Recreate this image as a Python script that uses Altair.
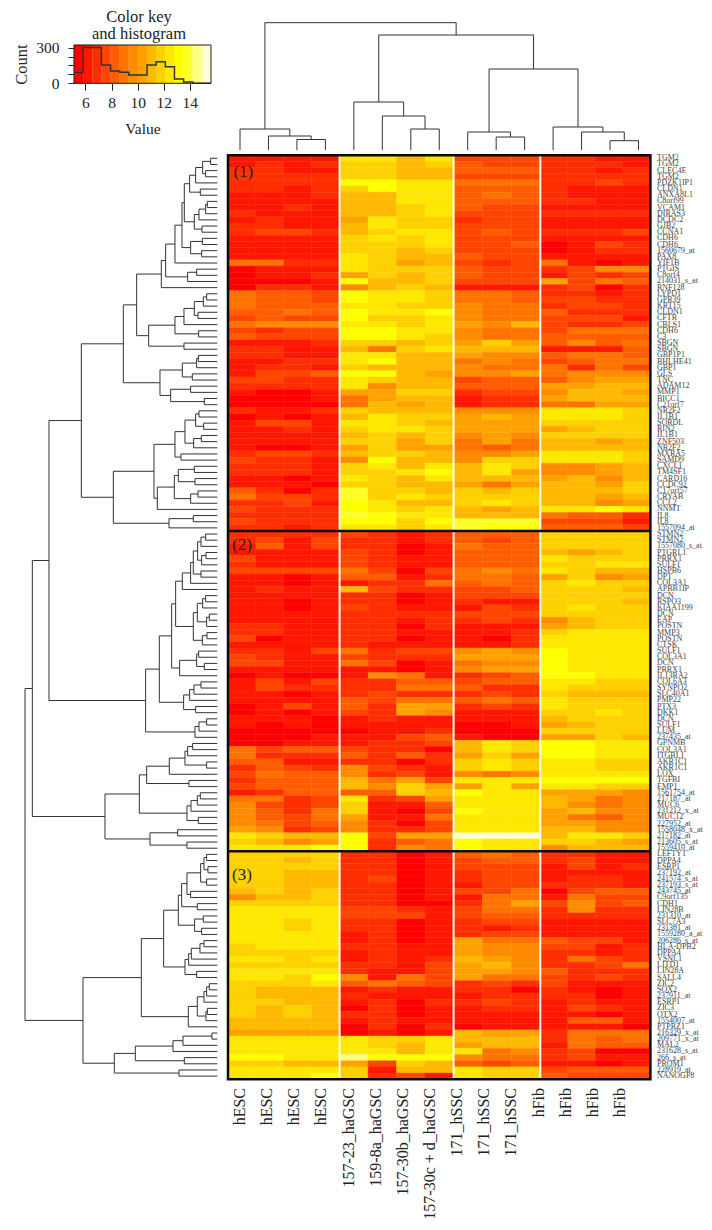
import altair as alt
import pandas as pd

W, H = 696, 1214
SERIF = "Liberation Serif"
INK = "#222222"

# ---------- colour key ----------
key_colors = ["#ff0000", "#ff1700", "#ff2e00", "#ff4600", "#ff5d00", "#ff7400", "#ff8b00", "#ffa200",
              "#ffb900", "#ffd100", "#ffe800", "#ffff00", "#ffff2b", "#ffff80", "#ffffd5"]
key_breaks = [5.12, 5.82, 6.52, 7.22, 7.92, 8.62, 9.32, 10.02, 10.72, 11.42, 12.12, 12.82, 13.52, 14.22, 14.92, 15.62]
hist_counts = [90, 300, 300, 154, 104, 93, 70, 70, 154, 182, 140, 36, 11, 0, 0]

# ---------- labels ----------
col_labels = ["hESC", "hESC", "hESC", "hESC", "157-23_haGSC", "159-8a_haGSC", "157-30b_haGSC", "157-30c + d_haGSC",
              "171_hSSC", "171_hSSC", "171_hSSC", "hFib", "hFib", "hFib", "hFib"]
row_labels_1 = ["TGM2", "TGM2", "CLEC4E", "TGM2", "PDZK1IP1", "CLDN1", "ANXA8L1", "C8orf99", "VCAM1", "DIRAS3", "DCDC2",
                "GJB2", "CCNA1", "CDH6", "CDH6", "1560679_at", "PAX8", "YIF1B", "PTGIS", "C8orf4", "214031_s_at", "RNF128",
                "LYPD1", "GPR39", "KRT15", "CLDN1", "CFTR", "CBLS1", "CDH6", "C3", "SBGN", "SBGN", "GBP1P1", "BHLHE41",
                "GBP1", "GLS", "TNC", "ADAM12", "MMP1", "BICC1", "C21orf7", "NR2F2", "IL1B1", "SORDL", "RIN2", "IL1B1",
                "ZNF503", "NR2F2", "MXRA5", "SAMD9", "CXCL1", "TM4SF1", "CARD16", "CCDC92", "C17orf57", "CRYAB", "CCL2",
                "NNMT", "IL8", "IL8", "1557094_at"]
row_labels_2 = ["STMN2", "STMN2", "1557080_s_at", "PTGRL1", "PRRX1", "SULF1", "HSPB6", "DPT", "COL3A1", "APBB1IP", "DCN",
                "RSPO3", "KIAA1199", "DCN", "EAP", "POSTN", "MMP3", "POSTN", "CTSK", "SULF1", "COL3A1", "DCN", "PRRX1",
                "IL13RA2", "COL6A3", "SYNPO2", "SLC40A1", "PMP22", "PTX3", "DKK1", "DCN", "SULF1", "LUM", "237435_at",
                "GPNMB", "COL3A1", "ITGBL1", "AKR1C1", "AKR1C1", "LOX", "TGFBI", "EMP1", "1561754_at", "217187_at", "MUC6",
                "231212_x_at", "MUC12", "227952_at", "1558048_x_at", "217182_at", "213605_s_at", "1559410_at"]
row_labels_3 = ["LEFTY1", "DPPA4", "ESRP1", "237192_at", "241574_s_at", "237193_s_at", "243745_at", "C9orf135", "CDH1",
                "LIN28B", "231310_at", "SLC7A3", "231381_at", "1559280_a_at", "206286_s_at", "HLA-DPB2", "DPPA4", "VSNL1",
                "LITD1", "LIN28A", "SALL4", "ZIC2", "SOX2", "237911_at", "ESRP1", "ZIC3", "OTX2", "1554007_at", "PTPRZ1",
                "216329_x_at", "209771_x_at", "MAL2", "231628_s_at", "266_s_at", "PROM1", "228919_at", "NANOGP8"]
row_labels = row_labels_1 + row_labels_2 + row_labels_3

# ---------- cells: colour-key bin of every cell, row by row ----------
cells_1 = [
    [1,1,1,1,10,10,8,10,3,3,3,2,2,1,1],
    [1,2,1,2,9,9,8,9,4,3,3,2,2,2,1],
    [2,2,1,1,9,9,8,8,4,4,4,2,2,1,2],
    [2,2,2,2,9,9,8,8,3,3,3,2,2,2,2],
    [2,2,2,2,11,11,10,10,5,5,5,2,2,3,2],
    [2,2,1,2,9,11,10,10,4,4,4,2,1,1,1],
    [1,1,1,2,8,8,10,10,4,5,4,2,1,1,1],
    [1,1,1,1,8,8,10,10,4,4,4,2,2,1,1],
    [1,1,2,1,8,8,9,10,4,3,3,1,1,1,1],
    [2,1,1,1,8,8,9,10,3,3,3,2,2,2,2],
    [1,2,1,1,7,10,9,9,2,3,3,1,1,1,1],
    [2,2,1,1,8,10,9,9,3,3,3,1,1,1,1],
    [2,3,3,2,8,9,10,10,3,4,3,2,2,2,3],
    [1,1,1,1,9,10,9,10,3,3,3,1,1,1,1],
    [1,1,1,1,9,9,9,10,3,3,4,0,1,3,2],
    [1,1,1,1,9,9,8,9,3,3,3,0,1,2,2],
    [1,1,1,1,10,9,8,8,4,3,3,1,1,1,1],
    [5,5,2,2,10,9,7,8,3,2,3,5,1,0,1],
    [0,1,1,1,10,9,9,9,4,3,3,2,3,6,6],
    [0,1,1,2,7,9,8,9,4,3,3,1,3,2,3],
    [0,0,0,1,11,8,8,9,3,3,3,7,3,5,4],
    [0,2,2,1,6,8,9,8,1,1,1,2,3,0,2],
    [5,4,4,3,11,10,10,9,5,5,4,2,2,1,2],
    [5,4,4,3,11,10,10,9,5,5,4,3,3,2,2],
    [5,4,4,4,10,10,9,9,6,5,5,2,3,3,2],
    [4,4,5,4,11,10,10,11,6,5,5,4,2,2,2],
    [3,4,3,3,11,9,9,10,6,5,5,3,3,3,1],
    [5,6,6,6,10,10,9,10,7,6,8,3,2,2,3],
    [3,2,3,3,11,11,10,10,6,5,5,3,5,5,5],
    [4,3,3,3,11,11,10,9,6,5,5,4,4,4,4],
    [1,1,1,2,9,9,8,9,7,9,7,4,6,4,5],
    [2,2,1,1,8,5,9,10,8,8,8,1,1,1,4],
    [2,2,1,1,10,10,8,8,7,6,6,4,5,5,4],
    [1,1,2,2,10,11,8,8,5,6,5,3,4,5,5],
    [1,2,2,1,9,8,8,8,6,5,5,5,2,5,3],
    [1,3,3,4,11,11,8,7,6,6,7,5,6,6,6],
    [3,3,2,2,10,9,8,8,3,4,4,4,6,7,7],
    [2,2,2,2,10,6,8,8,4,4,4,7,7,8,8],
    [1,0,0,1,7,7,9,9,2,3,3,6,8,8,7],
    [0,0,0,1,5,7,8,8,1,2,2,7,8,8,8],
    [0,0,0,0,5,8,7,8,1,2,2,5,5,7,7],
    [2,1,1,2,9,8,8,8,6,6,6,10,10,10,9],
    [0,1,0,1,8,10,9,9,7,8,7,10,10,10,9],
    [1,3,3,1,10,10,9,8,7,7,7,9,9,9,9],
    [1,1,2,1,9,10,10,9,7,7,7,7,8,9,9],
    [1,1,1,1,8,9,8,9,6,7,6,9,9,9,9],
    [1,1,1,1,9,9,7,9,5,7,5,8,8,7,8],
    [1,0,0,1,7,9,7,7,5,4,5,8,8,8,8],
    [2,3,3,2,8,9,9,8,6,6,7,10,10,10,9],
    [3,2,2,1,6,11,8,8,6,9,9,10,10,10,9],
    [2,2,2,1,9,10,8,10,8,10,9,6,6,7,8],
    [2,2,2,1,9,9,10,11,8,10,7,6,6,7,8],
    [1,1,0,1,10,9,8,10,8,8,8,7,8,6,8],
    [1,1,1,0,9,9,8,8,7,5,7,8,8,7,9],
    [4,2,0,2,12,9,9,8,9,8,9,8,8,8,9],
    [5,3,3,2,12,9,10,9,9,9,9,8,8,7,8],
    [2,2,3,1,11,10,8,8,9,10,9,8,8,6,7],
    [3,2,2,2,11,10,9,10,8,7,8,10,10,11,10],
    [2,2,2,2,12,11,10,10,8,8,8,5,4,4,2],
    [3,2,2,2,11,11,9,11,12,12,12,3,3,3,1],
    [2,2,1,2,10,10,9,10,12,11,11,4,4,4,3],
]
cells_2 = [
    [2,2,2,2,3,2,1,2,4,4,4,9,9,9,9],
    [2,3,1,3,2,2,1,2,4,3,4,9,9,9,9],
    [1,4,1,3,2,2,0,1,5,4,4,9,9,9,9],
    [1,1,1,1,3,2,0,1,4,4,4,8,7,8,9],
    [3,1,1,1,3,2,1,1,4,4,4,10,9,9,9],
    [2,1,1,1,3,2,1,1,4,4,4,9,9,10,10],
    [3,3,3,3,5,3,0,3,5,6,5,10,9,8,8],
    [1,1,0,1,4,4,1,2,5,5,4,7,9,6,7],
    [1,1,0,1,1,2,2,5,4,5,4,9,10,9,9],
    [1,2,1,1,8,3,2,2,3,3,4,9,9,9,8],
    [1,1,1,1,2,2,0,1,3,3,3,9,9,9,9],
    [1,1,0,1,2,2,0,1,2,1,1,9,9,9,8],
    [1,1,0,1,3,2,1,1,1,3,2,9,10,9,9],
    [1,1,1,1,2,2,2,2,3,3,3,9,9,9,9],
    [1,1,1,1,2,2,1,2,2,3,2,6,8,9,9],
    [2,2,1,1,2,2,0,2,1,1,1,7,8,9,9],
    [2,2,1,1,2,2,1,1,1,1,2,9,10,10,10],
    [3,0,1,1,2,2,0,1,1,0,2,10,10,10,10],
    [1,1,1,1,2,1,1,1,1,1,2,10,10,10,10],
    [2,2,1,3,5,2,3,3,6,7,6,11,10,10,10],
    [3,2,1,1,3,2,2,2,7,7,7,11,10,10,10],
    [3,3,1,1,5,3,0,1,5,6,6,11,10,10,10],
    [1,1,1,1,1,1,0,1,6,7,7,11,10,10,10],
    [0,1,0,0,1,6,5,1,2,3,4,11,11,10,10],
    [1,3,1,3,2,2,4,4,3,4,4,10,10,9,9],
    [1,3,2,2,2,2,5,5,4,2,2,10,9,9,9],
    [1,1,0,1,2,3,2,2,2,3,2,9,8,8,8],
    [1,1,1,1,4,3,5,5,4,5,4,10,9,9,9],
    [0,1,3,1,4,2,7,7,2,3,2,10,9,9,9],
    [0,1,0,1,3,2,7,6,1,1,1,9,9,10,9],
    [1,1,1,0,1,2,1,1,1,1,1,8,9,9,9],
    [1,0,1,0,1,1,1,1,0,0,1,7,8,9,9],
    [0,0,0,0,0,1,1,2,0,0,0,9,9,9,9],
    [0,0,0,1,1,1,3,4,1,0,0,7,7,9,8],
    [0,0,1,1,1,2,2,3,8,10,9,11,11,10,10],
    [5,3,4,4,3,2,2,0,8,10,9,11,11,10,10],
    [5,2,2,2,4,2,4,2,7,9,7,11,11,10,10],
    [4,4,1,1,2,2,0,2,9,10,9,10,10,9,9],
    [2,4,3,2,6,3,2,1,9,10,9,10,10,9,9],
    [3,5,4,4,6,2,3,1,6,5,6,10,10,10,10],
    [2,4,4,4,8,5,7,3,10,10,10,11,11,11,11],
    [3,4,4,4,8,6,9,7,7,10,7,10,10,9,9],
    [1,2,4,4,4,4,9,8,11,10,10,7,7,7,6],
    [5,5,2,3,10,2,3,7,10,10,10,8,7,5,6],
    [6,3,2,3,9,1,1,4,10,10,10,8,6,5,6],
    [6,4,2,5,9,1,0,3,11,10,10,7,8,6,6],
    [6,4,3,5,7,1,1,5,10,10,10,7,5,4,6],
    [6,5,3,4,6,2,0,3,10,10,10,7,7,6,6],
    [7,6,2,3,6,2,2,3,10,10,10,8,8,6,6],
    [10,9,8,8,11,3,7,7,14,14,14,8,10,10,9],
    [9,8,6,7,11,2,4,5,11,10,10,9,9,8,7],
    [10,10,10,11,11,2,6,5,11,10,10,6,8,8,8],
]
cells_3 = [
    [9,9,9,9,2,2,0,1,4,5,4,2,2,1,1],
    [9,9,8,9,2,2,0,1,3,4,4,2,3,1,1],
    [9,9,9,9,2,2,0,1,3,3,3,1,3,1,2],
    [9,9,8,8,2,2,0,1,2,3,3,1,1,1,1],
    [9,9,8,8,2,3,0,1,2,3,3,1,2,2,1],
    [9,9,8,8,2,2,0,1,1,3,3,2,2,2,1],
    [8,9,8,9,2,2,0,1,3,3,5,0,3,4,4],
    [6,8,8,9,2,2,0,1,1,5,5,1,5,3,3],
    [9,9,9,9,2,2,0,0,2,5,7,3,6,3,4],
    [10,10,10,10,3,3,2,1,3,5,5,2,6,2,2],
    [10,10,10,10,3,3,3,1,3,4,4,2,2,2,2],
    [10,10,9,10,2,2,0,1,2,3,3,1,1,1,1],
    [10,10,9,10,2,2,0,1,2,1,2,1,1,1,1],
    [10,10,10,10,1,2,0,1,2,3,3,1,1,1,1],
    [10,10,10,10,1,2,0,1,7,5,5,4,3,3,1],
    [9,10,10,10,2,2,1,1,7,6,6,3,3,1,2],
    [9,9,9,9,1,2,1,1,7,6,6,2,2,1,2],
    [10,10,9,10,1,2,1,2,8,7,6,2,5,3,2],
    [9,9,9,9,2,2,1,3,7,8,6,2,2,3,5],
    [10,10,10,10,2,1,1,3,7,7,6,4,2,2,2],
    [10,10,9,11,6,1,5,3,7,5,5,3,2,3,2],
    [9,9,9,10,4,5,4,3,2,3,2,3,1,1,1],
    [9,8,8,8,1,2,1,1,2,2,0,2,1,0,1],
    [9,8,8,8,2,1,1,1,1,2,2,2,2,0,1],
    [9,9,8,8,1,2,0,2,2,3,2,1,2,1,1],
    [9,8,9,8,0,2,0,1,1,2,2,1,3,2,1],
    [9,8,9,8,2,2,0,1,1,1,1,1,1,0,1],
    [8,8,8,8,1,2,1,1,1,1,1,1,4,4,1],
    [8,8,8,8,0,2,0,2,0,1,1,1,1,1,0],
    [7,7,7,7,0,1,0,1,8,7,7,2,5,5,5],
    [10,10,10,10,10,9,9,10,8,8,8,2,5,4,5],
    [10,10,10,10,10,9,8,10,7,8,8,1,5,4,4],
    [10,10,10,10,10,10,8,10,10,5,6,2,3,0,0],
    [11,11,10,10,13,11,11,11,6,5,5,2,3,1,1],
    [9,9,8,8,7,3,9,8,4,3,4,1,1,0,1],
    [10,10,10,10,9,1,8,8,10,9,9,3,4,4,4],
    [10,10,10,11,9,2,3,1,10,9,9,4,3,3,3],
]
cells = cells_1 + cells_2 + cells_3
block_lines = [len(cells_1), len(cells_1) + len(cells_2)]
block_names = ["(1)", "(2)", "(3)"]
block_tag_row = [2.8, 63.3, 116.8]

cell_df = pd.DataFrame([
    {"r0": r, "r1": r + 1, "c0": c, "c1": c + 1, "level": v}
    for r, row in enumerate(cells) for c, v in enumerate(row)
])

# ---------- dendrograms: (merge position, child, child); L is a leaf ----------
L = None
def N(h, a, b):
    return (h, a, b)

b1_ = N(553, N(569, N(587, N(608, N(632, L, L), N(617, L, L)), L), N(601, L, L)),
        N(583, N(597, N(617, N(622, L, L), L), L), N(606, L, L)))
b2_ = N(546, b1_, N(572, N(607, L, L), N(605, L, L)))
b5_ = N(484, N(497, N(525, b2_, L), N(563, N(590, L, L), L)), L)
c5_ = N(446, N(525, N(552, N(583, N(610, N(620, L, L), L), N(594, L, L)), L), N(596, L, L)), N(552, L, L))
e_ = N(480, N(547, N(590, N(595, L, L), L), N(577, L, L)), N(512, N(572, L, L), N(613, L, L)))
g_ = N(370, N(410, b5_, c5_), e_)
k_ = N(525, N(555, N(587, N(597, L, L), N(611, L, L)), N(581, N(604, L, L), L)), N(543, L, L))
l_ = N(472, N(523, N(535, N(583, L, L), N(585, L, L)), N(572, N(594, L, L), L)), L)
h_ = N(340, N(462, k_, l_), N(507, N(580, L, L), L))
block1_tree = N(244, g_, h_)

r_ = N(593, N(603, N(617, L, L), L), N(605, N(618, L, L), L))
q4_ = N(547, N(572, N(580, r_, N(603, L, L)), L), L)
s4_ = N(580, N(592, N(608, N(617, L, L), L), N(620, N(628, L, L), L)), N(607, N(621, L, L), L))
u_ = N(539, N(590, N(596, L, L), N(613, L, L)), L)
t2_ = N(515, N(527, q4_, s4_), u_)
v_ = N(551, N(569, N(582, N(603, L, L), L), L), N(587, L, L))
x_ = N(585, N(597, N(620, L, L), L), L)
block2a_tree = N(437, N(478, t2_, v_), x_)

a3_ = N(440, N(508, N(555, N(563, N(578, L, L), L), N(620, L, L)), L), N(567, L, L))
a4_ = N(561, N(573, N(592, N(601, L, L), L), L), N(595, L, L))
block2b_tree = N(315, N(418, a3_, a4_), N(450, N(533, L, L), N(561, L, L)))

b1c = N(602, N(612, N(620, L, L), N(624, L, L)), N(620, L, L))
b5c = N(535, N(545, N(561, b1c, N(572, L, L)), N(592, L, L)), N(584, N(610, L, L), N(605, L, L)))
b6c = N(555, N(566, N(574, N(600, N(612, L, L), L), L), L), N(590, L, L))
c1c = N(592, N(612, N(620, N(628, L, L), L), L), N(618, N(622, L, L), L))
c3c = N(424, N(491, b5c, b6c), N(565, c1c, L))
c4c = N(343, N(406, N(519, N(549, N(636, L, L), L), L), N(553, L, L)), N(537, L, L))
block3_tree = N(249, c3c, c4c)

row_tree = N(75, N(97, N(147, block1_tree, block2a_tree), block2b_tree), block3_tree)

col_tree = N(127.3,
             N(21, L, N(14, L, N(10.5, L, L))),
             N(115,
               N(48, L, N(34, L, N(21, L, L))),
               N(81, N(18, L, N(13, L, L)), N(23, L, N(18, L, N(9.3, L, L))))))


def segments(tree, leaf_h):
    segs, counter = [], [0]

    def walk(node):
        if node is None:
            p = counter[0]
            counter[0] += 1
            return p, leaf_h
        h, a, b = node
        pa, ha = walk(a)
        pb, hb = walk(b)
        segs.append({"h0": h, "h1": h, "p0": pa, "p1": pb})
        segs.append({"h0": h, "h1": ha, "p0": pa, "p1": pa})
        segs.append({"h0": h, "h1": hb, "p0": pb, "p1": pb})
        return (pa + pb) / 2, h

    walk(tree)
    return pd.DataFrame(segs), counter[0]


row_segs, n_row_leaves = segments(row_tree, 652)
col_segs, n_col_leaves = segments(col_tree, 0)
row_segs["p0"] += 0.5
row_segs["p1"] += 0.5

# ---------- shared scales (independent per layer, placed by their range) ----------
cell_x = alt.Scale(domain=[0, 4, 8, 11, 15], range=[220, 331.6, 445.6, 532.3, 642.4], nice=False, zero=False)
cell_y = alt.Scale(domain=[0, len(cells)], range=[147.2, 1071.2], nice=False, zero=False)
key_x = alt.Scale(domain=[key_breaks[0], key_breaks[-1]], range=[66, 203], nice=False, zero=False)
key_y = alt.Scale(domain=[0, 322], range=[75.3, 37], nice=False, zero=False)
color_scale = alt.Scale(domain=list(range(15)), range=key_colors)


def X(f, s):
    return alt.X(f, scale=s, axis=None)


def Y(f, s):
    return alt.Y(f, scale=s, axis=None)


# heatmap
heat = alt.Chart(cell_df).mark_rect(strokeWidth=0.4).encode(
    x=X("c0:Q", cell_x), x2="c1:Q", y=Y("r0:Q", cell_y), y2="r1:Q",
    color=alt.Color("level:O", scale=color_scale, legend=None),
    stroke=alt.Stroke("level:O", scale=color_scale, legend=None),
)
gaps = alt.Chart(pd.DataFrame({"c": [4, 8, 11], "r0": 0, "r1": len(cells)})).mark_rule(
    color="#fffdf0", strokeWidth=2).encode(x=X("c:Q", cell_x), y=Y("r0:Q", cell_y), y2="r1:Q")
blocks = alt.Chart(pd.DataFrame({"r": block_lines, "c0": 0, "c1": 15})).mark_rule(
    color="#0a0a0a", strokeWidth=2.5).encode(y=Y("r:Q", cell_y), x=X("c0:Q", cell_x), x2="c1:Q")
frame = alt.Chart(pd.DataFrame({"c0": [0], "c1": [15], "r0": [0], "r1": [len(cells)]})).mark_rect(
    filled=False, stroke="#0a0a0a", strokeWidth=2.5).encode(
    x=X("c0:Q", cell_x), x2="c1:Q", y=Y("r0:Q", cell_y), y2="r1:Q")
tags = alt.Chart(pd.DataFrame({"t": block_names, "r": block_tag_row, "c": [0.55, 0.5, 0.5]})).mark_text(
    font=SERIF, fontSize=17, color=INK).encode(x=X("c:Q", cell_x), y=Y("r:Q", cell_y), text="t:N")

# row and column labels
row_text = alt.Chart(pd.DataFrame({"t": row_labels, "r": [i + 0.5 for i in range(len(row_labels))]})).mark_text(
    font=SERIF, fontSize=8, color="#444444", align="left", baseline="middle").encode(
    x=alt.value(649), y=Y("r:Q", cell_y), text="t:N")
col_text = alt.Chart(pd.DataFrame({"t": col_labels, "i": list(range(len(col_labels)))})).mark_text(
    font=SERIF, fontSize=16, color=INK, align="right", baseline="middle", angle=270).encode(
    x=X("i:Q", alt.Scale(domain=[0, 14], range=[232, 612], nice=False, zero=False)),
    y=alt.value(1080), text="t:N")

# dendrograms
row_dend = alt.Chart(row_segs).mark_rule(color="#333333", strokeWidth=1).encode(
    x=X("h0:Q", alt.Scale(domain=[75, 652], range=[17, 209.3], nice=False, zero=False)), x2="h1:Q",
    y=Y("p0:Q", cell_y), y2="p1:Q")
col_dend = alt.Chart(col_segs).mark_rule(color="#333333", strokeWidth=1).encode(
    x=X("p0:Q", alt.Scale(domain=[0, 14], range=[232, 630.5], nice=False, zero=False)), x2="p1:Q",
    y=Y("h0:Q", alt.Scale(domain=[0, 127.3], range=[142, 14.7], nice=False, zero=False)), y2="h1:Q")

# colour key
key_df = pd.DataFrame({"x0": key_breaks[:-1], "x1": key_breaks[1:], "y0": 0, "y1": 322, "level": list(range(15))})
key_rect = alt.Chart(key_df).mark_rect(strokeWidth=0.3).encode(
    x=alt.X("x0:Q", scale=key_x, axis=alt.Axis(
        orient="bottom", offset=-(H - 75.3), values=[6, 8, 10, 12, 14], title="Value", grid=False, domain=False,
        tickColor=INK, tickSize=7, labelFont=SERIF, labelFontSize=15.5, labelColor=INK, labelPadding=5,
        titleFont=SERIF, titleFontSize=15.5, titleFontWeight="normal", titleColor=INK, titlePadding=11)),
    x2="x1:Q",
    y=alt.Y("y0:Q", scale=key_y, axis=alt.Axis(
        orient="left", offset=-66, values=[0, 75, 150, 225, 300], title="Count", grid=False, domain=False,
        labelExpr="datum.value == 0 || datum.value == 300 ? datum.label : ''", labelOverlap=False,
        tickColor=INK, tickSize=6, labelFont=SERIF, labelFontSize=15.5, labelColor=INK, labelPadding=9,
        titleFont=SERIF, titleFontSize=16.5, titleFontWeight="normal", titleColor=INK, titlePadding=6)),
    y2="y1:Q",
    color=alt.Color("level:O", scale=color_scale, legend=None),
    stroke=alt.Stroke("level:O", scale=color_scale, legend=None),
)
hist_df = pd.DataFrame({"x": key_breaks, "y": hist_counts + [hist_counts[-1]]})
key_hist = alt.Chart(hist_df).mark_line(color="#333333", strokeWidth=1.5, interpolate="step-after").encode(
    x=X("x:Q", key_x), y=Y("y:Q", key_y))
key_box = alt.Chart(pd.DataFrame({"x0": [key_breaks[0]], "x1": [key_breaks[-1]], "y0": [0], "y1": [322]})).mark_rect(
    filled=False, stroke=INK, strokeWidth=1).encode(x=X("x0:Q", key_x), x2="x1:Q", y=Y("y0:Q", key_y), y2="y1:Q")
key_title = alt.Chart(pd.DataFrame({"t": ["Color key", "and histogram"], "l": [9, 26]})).mark_text(
    font=SERIF, fontSize=16.5, color=INK).encode(x=alt.value(131), y=alt.Y("l:Q", scale=None), text="t:N")

chart = alt.layer(
    key_rect, key_hist, key_box, key_title, col_dend, row_dend, heat, gaps, blocks, frame, tags, row_text, col_text
).resolve_scale(x="independent", y="independent", color="independent", stroke="independent").properties(
    width=W, height=H, padding=0, autosize=alt.AutoSizeParams(type="none")
).configure_view(stroke=None)

chart.save("out.html", embed_options={"renderer": "svg", "actions": False})
